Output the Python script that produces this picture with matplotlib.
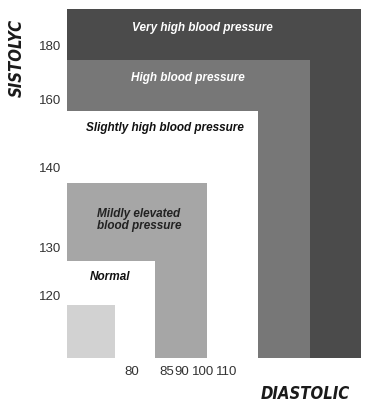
import matplotlib
matplotlib.use("Agg")
import matplotlib.pyplot as plt
from matplotlib.patches import Rectangle
from matplotlib import font_manager as fm

# Zone geometry in schematic units (origin bottom-left of the chart)
zone_names = ["Very high blood pressure", "High blood pressure",
              "Slightly high blood pressure", "Mildly elevated\nblood pressure",
              "Normal gap", "Normal"]
zone_x1 = [294, 243, 191, 140, 88, 48]
zone_y1 = [349, 298, 247, 175, 97, 53]
zone_colors = ["#4b4b4b", "#777777", "#ffffff", "#a6a6a6", "#ffffff", "#d2d2d2"]

# Tick labels and their schematic positions
sys_labels = ["180", "160", "140", "130", "120"]
sys_pos = [312, 258, 191, 110, 62]
dia_labels = ["80", "85", "90", "100", "110"]
dia_pos = [64.7, 99.5, 114.5, 136, 160]

# Zone text placement
text_items = ["Very high blood pressure", "High blood pressure",
              "Slightly high blood pressure", "Mildly elevated\nblood pressure", "Normal"]
text_x = [135, 121, 98, 30, 43]
text_y = [330, 280, 230, 138, 81]
text_col = ["white", "white", "#111111", "#222222", "#111111"]
text_ha = ["center", "center", "center", "left", "center"]

W, H = 365, 404
fig = plt.figure(figsize=(W / 100, H / 100), dpi=100)
fig.patch.set_facecolor("white")
ax = fig.add_axes([67 / W, (H - 358) / H, 294 / W, 349 / H])
ax.set_xlim(0, 294)
ax.set_ylim(0, 349)

for x1, y1, c in zip(zone_x1, zone_y1, zone_colors):
    ax.add_patch(Rectangle((0, 0), x1, y1, facecolor=c, edgecolor="none"))

fam = ["Liberation Sans", "DejaVu Sans"]
for t, x, y, c, ha in zip(text_items, text_x, text_y, text_col, text_ha):
    ax.text(x, y, t, color=c, ha=ha, va="center", fontsize=8.5,
            fontweight="bold", fontstyle="italic", family=fam, linespacing=1.0)

for s in ax.spines.values():
    s.set_visible(False)
ax.set_yticks(sys_pos, sys_labels)
ax.set_xticks(dia_pos, dia_labels)
ax.tick_params(length=0, labelsize=9.5, labelcolor="#333333")
ax.tick_params(axis="y", pad=4)
ax.tick_params(axis="x", pad=6)
for lab in ax.get_xticklabels() + ax.get_yticklabels():
    lab.set_family(fam)

# condensed bold italic font for the axis titles, if available
cond = None
for f in fm.fontManager.ttflist:
    if "Condensed" in f.fname and "Bold" in f.fname and ("Oblique" in f.fname or "Italic" in f.fname):
        cond = f.fname
        break
if cond is not None:
    lab_kw = dict(fontproperties=fm.FontProperties(fname=cond, size=12))
else:
    lab_kw = dict(fontsize=11, fontweight="bold", fontstyle="italic", family=fam)

ax.set_ylabel("SISTOLYC", color="#1a1a1a", **lab_kw)
ax.yaxis.set_label_coords(-0.139, 0.861)
ax.set_xlabel("DIASTOLIC", color="#1a1a1a", **lab_kw)
ax.xaxis.set_label_coords(0.81, -0.077)

fig.savefig("out.png", dpi=100, facecolor="white")
